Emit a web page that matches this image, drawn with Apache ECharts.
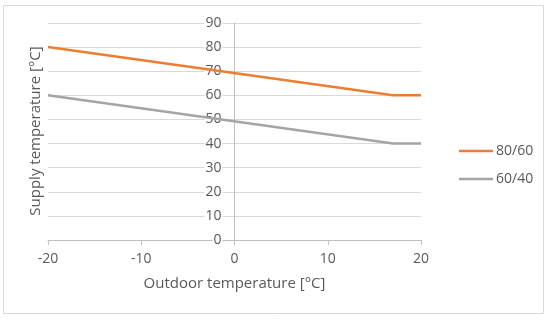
<!DOCTYPE html>
<html>
<head>
<meta charset="utf-8">
<script src="https://cdn.jsdelivr.net/npm/echarts@6/dist/echarts.min.js"></script>
<style>html,body{margin:0;padding:0;background:#fff}#c{width:550px;height:321px}</style>
</head>
<body>
<div id="c"></div>
<script>
var outdoorTemps = [-20, 17, 20];
var supply8060 = [80, 60, 60];
var supply6040 = [60, 40, 40];
var seriesNames = ['80/60', '60/40'];
var xTitle = 'Outdoor temperature [°C]';
var yTitle = 'Supply temperature [°C]';

function pairs(ys) { return outdoorTemps.map(function (x, i) { return [x, ys[i]]; }); }

var textColor = '#595959';
var font = 'Open Sans';
var chart = echarts.init(document.getElementById('c'));
chart.setOption({
  animation: false,
  textStyle: { fontFamily: font },
  grid: { left: 48, right: 129, top: 23, bottom: 81, containLabel: false },
  graphic: [
    { type: 'rect', shape: { x: 3.5, y: 5.5, width: 540, height: 308 },
      style: { fill: 'none', stroke: '#D9D9D9', lineWidth: 1 }, z: -1 },
    { type: 'text', x: 36, y: 131, rotation: Math.PI / 2,
      style: { text: yTitle, fill: textColor, font: '15px "Open Sans"', textAlign: 'center', textVerticalAlign: 'middle' } }
  ],
  legend: {
    orient: 'vertical', left: 454, top: 139, itemWidth: 34, itemHeight: 14, itemGap: 14,
    textStyle: { color: textColor, fontSize: 14, fontFamily: font, padding: [0, 0, 0, -2] },
    data: seriesNames.map(function (n) { return { name: n, icon: 'path://M0,0 L34,0 L34,2.5 L0,2.5 Z' }; })
  },
  xAxis: {
    type: 'value', min: -20, max: 20, interval: 10,
    name: xTitle, nameLocation: 'middle', nameGap: 36,
    nameTextStyle: { color: textColor, fontSize: 15, fontFamily: font },
    axisLine: { onZero: false, lineStyle: { color: '#BFBFBF', width: 1 } },
    axisTick: { show: true, length: 5, lineStyle: { color: '#BFBFBF' } },
    axisLabel: { color: textColor, fontSize: 14, margin: 12 },
    splitLine: { show: false }
  },
  yAxis: {
    type: 'value', min: 0, max: 90, interval: 10, position: 'left', offset: -186.5,
    axisLine: { show: true, onZero: false, lineStyle: { color: '#BFBFBF', width: 1 } },
    axisTick: { show: false },
    axisLabel: { color: textColor, fontSize: 14, margin: 12, backgroundColor: '#fff', padding: [0, 1] },
    splitLine: { show: true, lineStyle: { color: '#D9D9D9', width: 1 } }
  },
  series: [
    { name: seriesNames[0], type: 'line', data: pairs(supply8060), symbol: 'none',
      lineStyle: { color: '#ED7D31', width: 2.5 }, itemStyle: { color: '#ED7D31' }, z: 3 },
    { name: seriesNames[1], type: 'line', data: pairs(supply6040), symbol: 'none',
      lineStyle: { color: '#A5A5A5', width: 2.5 }, itemStyle: { color: '#A5A5A5' }, z: 3 }
  ]
});
</script>
</body>
</html>
